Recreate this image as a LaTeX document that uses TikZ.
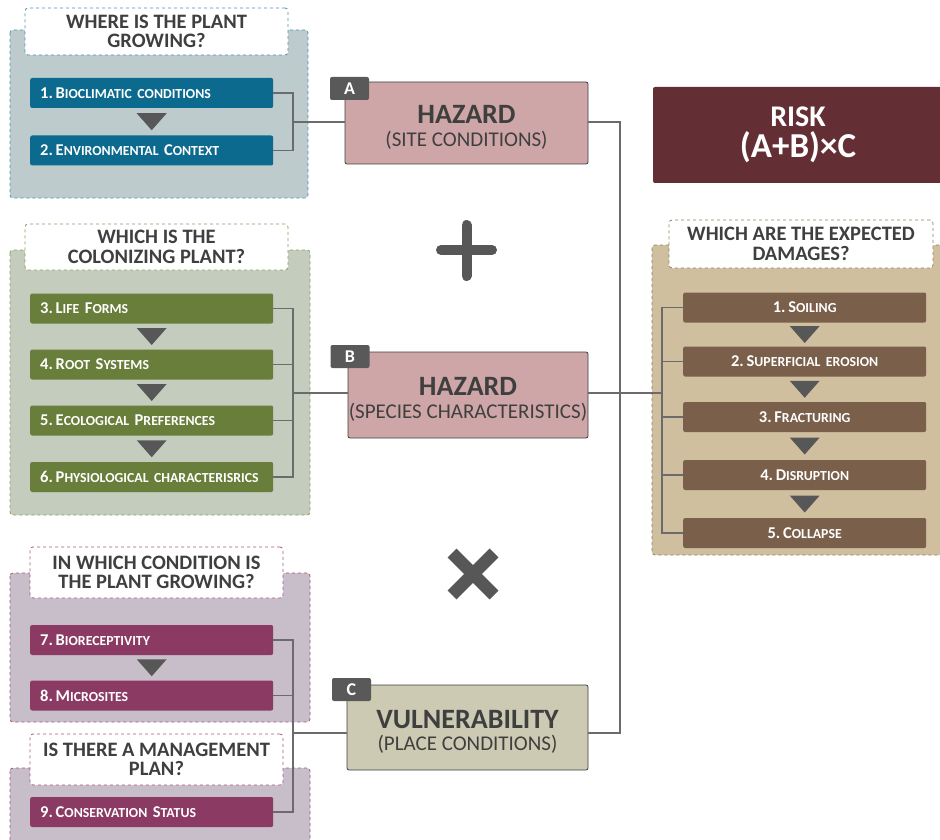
\documentclass[tikz,border=0pt]{standalone}
\usepackage{fontspec}
\setmainfont{Carlito}
\usetikzlibrary{calc}
\definecolor{txtdark}{HTML}{3F3F3F}
\definecolor{conn}{HTML}{6B6B6B}
\definecolor{tri}{HTML}{575757}
\definecolor{bluefill}{HTML}{BDCBCD}
\definecolor{bluedash}{HTML}{4B93B5}
\definecolor{blueitem}{HTML}{0C6A8F}
\definecolor{greenfill}{HTML}{C3CCBD}
\definecolor{greendash}{HTML}{8AA05C}
\definecolor{greenitem}{HTML}{697E3A}
\definecolor{purpfill}{HTML}{C7BEC9}
\definecolor{purpdash}{HTML}{A45580}
\definecolor{purpitem}{HTML}{8A3A63}
\definecolor{tanfill}{HTML}{CFBF9F}
\definecolor{tandash}{HTML}{938059}
\definecolor{brownitem}{HTML}{7A5F4A}
\definecolor{hazfill}{HTML}{CFA6A7}
\definecolor{vulfill}{HTML}{CDCAB3}
\definecolor{tabfill}{HTML}{595959}
\definecolor{riskfill}{HTML}{632F35}
\newcommand\sml[1]{{\fontsize{13.8}{14}\selectfont #1}}
\newcommand\boxmain[1]{{\fontsize{28}{28}\selectfont\bfseries\rule{0pt}{27pt}#1}}
\newcommand\boxsub[1]{{\fontsize{21}{22}\selectfont #1}}
\tikzset{
  panel/.style={draw=#1, dashed, line width=0.8pt, rounded corners=3pt},
  header/.style={draw=#1, dashed, line width=0.8pt, fill=white, rounded corners=3pt,
     text=txtdark, align=center, font=\bfseries\fontsize{20.5}{19.5}\selectfont, inner sep=0pt},
  item/.style={fill=#1, rounded corners=2pt, text=white, minimum height=30pt,
     inner xsep=10pt, inner ysep=0pt, text width=223pt, font=\bfseries\fontsize{16.5}{17}\selectfont},
  litem/.style={item=#1, align=left, anchor=west},
  ritem/.style={item=#1, align=center, anchor=west},
  bigbox/.style={draw=txtdark, line width=0.8pt, fill=#1, rounded corners=2pt, text=txtdark,
     align=center, inner sep=0pt},
  tabbox/.style={fill=tabfill, rounded corners=2pt, text=white, minimum width=39pt,
     minimum height=23pt, inner sep=0pt, font=\bfseries\fontsize{18}{18}\selectfont},
  wire/.style={draw=conn, line width=1.3pt},
}
\newcommand\downtri[3]{\fill[tri] ($(#1)+(-15,#2)$) -- ($(#1)+(15,#2)$) -- ($(#1)+(0,#3)$) -- cycle;}
\begin{document}
\begin{tikzpicture}[x=1pt,y=-1pt]
\useasboundingbox (0,0) rectangle (940,840);
\clip (0,0) rectangle (940,840);

% ---------- panels ----------
\draw[panel=bluedash, fill=bluefill] (10,30) rectangle (308,198);
\node[header=bluedash, minimum width=263pt, minimum height=47pt] (hq1) at (156.5,31.5)
  {WHERE IS THE PLANT\\GROWING?};

\draw[panel=greendash, fill=greenfill] (10,250) rectangle (310,515);
\node[header=greendash, minimum width=263pt, minimum height=46pt] (hq2) at (156.5,247)
  {WHICH IS THE\\COLONIZING PLANT?};

\draw[panel=purpdash, fill=purpfill] (10,573) rectangle (310,722);
\node[header=purpdash, minimum width=253pt, minimum height=51pt] (hq3) at (156.5,572.5)
  {IN WHICH CONDITION IS\\THE PLANT GROWING?};

\draw[panel=purpdash, fill=purpfill] (10,768) rectangle (310,860);
\node[header=purpdash, minimum width=253pt, minimum height=51pt] (hq4) at (156.5,759.5)
  {IS THERE A MANAGEMENT\\PLAN?};

\draw[panel=tandash, fill=tanfill] (652,245) rectangle (945,555);
\node[header=tandash, minimum width=264pt, minimum height=48pt] (hq5) at (801,244)
  {WHICH ARE THE EXPECTED\\DAMAGES?};

% ---------- left items ----------
\node[litem=blueitem] (i1) at (30,93) {1.\,B\sml{IOCLIMATIC CONDITIONS}};
\node[litem=blueitem] (i2) at (30,150.5) {2.\,E\sml{NVIRONMENTAL} C\sml{ONTEXT}};
\downtri{$(i1.south)!0.5!(i2.north)$}{-8.5}{8.5}

\node[litem=greenitem] (i3) at (30,308.5) {3.\,L\sml{IFE} F\sml{ORMS}};
\node[litem=greenitem] (i4) at (30,364.5) {4.\,R\sml{OOT} S\sml{YSTEMS}};
\node[litem=greenitem] (i5) at (30,420.5) {5.\,E\sml{COLOGICAL} P\sml{REFERENCES}};
\node[litem=greenitem] (i6) at (30,477) {6.\,P\sml{HYSIOLOGICAL CHARACTERISRICS}};
\downtri{$(i3.south)!0.5!(i4.north)$}{-8.5}{8.5}
\downtri{$(i4.south)!0.5!(i5.north)$}{-8.5}{8.5}
\downtri{$(i5.south)!0.5!(i6.north)$}{-8.5}{8.5}

\node[litem=purpitem] (i7) at (30,640) {7.\,B\sml{IORECEPTIVITY}};
\node[litem=purpitem] (i8) at (30,695.5) {8.\,M\sml{ICROSITES}};
\node[litem=purpitem] (i9) at (30,812) {9.\,C\sml{ONSERVATION} S\sml{TATUS}};
\downtri{$(i7.south)!0.5!(i8.north)$}{-8.5}{8.5}

% ---------- right items ----------
\node[ritem=brownitem] (d1) at (683,307.5) {1.\,S\sml{OILING}};
\node[ritem=brownitem] (d2) at (683,361.5) {2.\,S\sml{UPERFICIAL EROSION}};
\node[ritem=brownitem] (d3) at (683,417) {3.\,F\sml{RACTURING}};
\node[ritem=brownitem] (d4) at (683,475) {4.\,D\sml{ISRUPTION}};
\node[ritem=brownitem] (d5) at (683,533) {5.\,C\sml{OLLAPSE}};
\downtri{$(d1.south)!0.5!(d2.north)$}{-8.5}{8.5}
\downtri{$(d2.south)!0.5!(d3.north)$}{-8.5}{8.5}
\downtri{$(d3.south)!0.5!(d4.north)$}{-8.5}{8.5}
\downtri{$(d4.south)!0.5!(d5.north)$}{-8.5}{8.5}

% ---------- central boxes ----------
\node[bigbox=hazfill, minimum width=243pt, minimum height=82pt] (hA) at (466.5,123)
  {\boxmain{HAZARD}\\[6pt]\boxsub{(SITE CONDITIONS)}};
\node[tabbox] (tA) at (349.5,88.5) {A};

\node[bigbox=hazfill, minimum width=240pt, minimum height=86pt] (hB) at (468,395)
  {\boxmain{HAZARD}\\[6pt]\boxsub{(SPECIES CHARACTERISTICS)}};
\node[tabbox] (tB) at (350,356.5) {B};

\node[bigbox=vulfill, minimum width=241pt, minimum height=85pt] (hC) at (467.5,727.5)
  {\boxmain{VULNERABILITY}\\[6pt]\boxsub{(PLACE CONDITIONS)}};
\node[tabbox] (tC) at (351.5,689.5) {C};

\node[fill=riskfill, rounded corners=2pt, minimum width=290pt, minimum height=96pt, text=white,
  align=center, inner sep=0pt, font=\bfseries] (risk) at (798,135)
  {{\fontsize{30}{30}\selectfont RISK}\\[4pt]{\fontsize{35}{35}\selectfont (A+B)×C}};

% ---------- operators ----------
\draw[tri, line width=10pt, line cap=round] (441,250) -- (492,250) (466.5,225) -- (466.5,276);
\draw[tri, line width=12.5pt] (452,553) -- (494,595) (494,553) -- (452,595);

% ---------- connectors ----------
\coordinate (jA) at (293,122);
\coordinate (jB) at (293,393);
\coordinate (jC) at (293,733);
\coordinate (jR) at (620,393);
\coordinate (jD) at (662,393);

\draw[wire] (i1.east) -| (jA);
\draw[wire] (i2.east) -| (jA);
\draw[wire] (jA) -- (jA -| hA.west);

\draw[wire] (i3.east) -| (jB);
\draw[wire] (i4.east) -| (jB);
\draw[wire] (i5.east) -| (jB);
\draw[wire] (i6.east) -| (jB);
\draw[wire] (jB) -- (jB -| hB.west);

\draw[wire] (i7.east) -| (jC);
\draw[wire] (i8.east) -| (jC);
\draw[wire] (i9.east) -| (jC);
\draw[wire] (jC) -- (jC -| hC.west);

\draw[wire] (hA.east |- jA) -| (jR);
\draw[wire] (hC.east |- jC) -| (jR);
\draw[wire] (hB.east |- jR) -- (jR) -- (jD);
\draw[wire] (jD) |- (d1.west);
\draw[wire] (jD) |- (d2.west);
\draw[wire] (jD) |- (d3.west);
\draw[wire] (jD) |- (d4.west);
\draw[wire] (jD) |- (d5.west);
\end{tikzpicture}
\end{document}
